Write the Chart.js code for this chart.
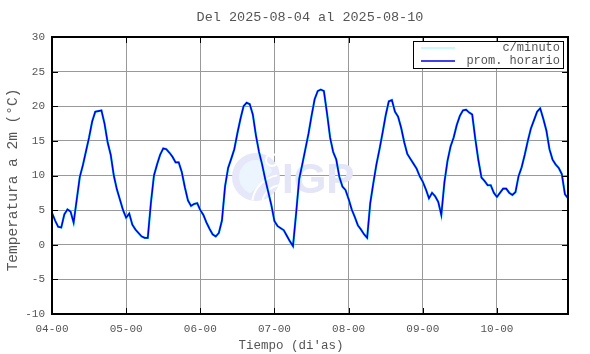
<!DOCTYPE html>
<html>
<head>
<meta charset="utf-8">
<script src="https://cdn.jsdelivr.net/npm/chart.js@4.4.1/dist/chart.umd.min.js"></script>
<style>
  body { margin: 0; background: #fff; }
</style>
</head>
<body>
<canvas id="tempChart" width="590" height="354"></canvas>
<script>
// hourly means (°C), one array per day
const day04 = [4.6, 3.5, 2.6, 2.5, 4.4, 5.1, 4.8, 3.2, 6.5, 9.8, 11.5, 13.5, 15.5, 17.8, 19.2, 19.3, 19.4, 17.5, 14.8, 13.0, 10.0, 8.0, 6.5, 5.0];
const day05 = [3.9, 4.5, 2.9, 2.2, 1.7, 1.2, 1.0, 1.0, 6.0, 10.0, 11.6, 13.0, 13.9, 13.8, 13.3, 12.7, 11.9, 11.9, 10.5, 8.3, 6.4, 5.6, 5.9, 6.0];
const day06 = [5.0, 4.3, 3.2, 2.3, 1.5, 1.2, 1.7, 3.5, 8.4, 11.1, 12.4, 13.8, 16.1, 18.2, 20.0, 20.5, 20.3, 18.8, 15.8, 13.4, 11.6, 9.5, 7.6, 5.7];
const day07 = [3.4, 2.7, 2.4, 2.1, 1.3, 0.5, -0.2, 4.5, 9.5, 11.6, 13.8, 16.0, 18.6, 21.0, 22.2, 22.4, 22.2, 19.0, 15.5, 13.4, 12.3, 9.8, 8.4, 7.9];
const day08 = [6.6, 5.1, 4.0, 2.8, 2.2, 1.5, 1.0, 6.0, 8.9, 11.6, 13.8, 16.2, 18.7, 20.7, 20.9, 19.2, 18.5, 16.9, 14.8, 13.1, 12.4, 11.7, 11.0, 9.9];
const day09 = [9.1, 8.0, 6.7, 7.5, 7.0, 6.2, 4.3, 9.0, 12.1, 14.2, 15.5, 17.3, 18.6, 19.4, 19.5, 19.1, 18.8, 15.3, 12.2, 9.7, 9.2, 8.6, 8.6, 7.5];
const day10 = [6.9, 7.5, 8.1, 8.1, 7.5, 7.2, 7.6, 9.9, 11.2, 13.0, 15.0, 16.8, 18.0, 19.2, 19.7, 18.2, 16.5, 13.8, 12.3, 11.6, 11.1, 10.2, 7.3, 6.7];

const dayTicks = ['04-00', '05-00', '06-00', '07-00', '08-00', '09-00', '10-00'];
const yTicks = [-10, -5, 0, 5, 10, 15, 20, 25, 30];

const titleText = 'Del 2025-08-04 al 2025-08-10';
const xTitle = "Tiempo (di'as)";
const yTitle = 'Temperatura a 2m (°C)';
const seriesNames = ['c/minuto', 'prom. horario'];

const hourly = [].concat(day04, day05, day06, day07, day08, day09, day10);
const points = hourly.map((v, i) => ({ x: i, y: v }));

const mono = "'Liberation Mono', 'DejaVu Sans Mono', monospace";
const textGray = '#555';
const cyan = '#40eefa';
const blue = '#0000e8';

const decorations = {
    id: 'decorations',
    beforeDatasetsDraw(chart) {
        // IGP watermark
        const ctx = chart.ctx;
        ctx.save();
        ctx.fillStyle = '#e6e7f8';
        ctx.beginPath();
        ctx.arc(256, 177, 24, 0, Math.PI * 2);
        ctx.fill();
        ctx.fillStyle = '#ecf4fd';
        ctx.beginPath();
        ctx.arc(256, 177, 17, Math.PI * 0.6, Math.PI * 1.9);
        ctx.fill();
        ctx.strokeStyle = '#fff';
        ctx.lineWidth = 2;
        ctx.beginPath();
        ctx.arc(282, 205, 30, Math.PI * 1.05, Math.PI * 1.45);
        ctx.stroke();
        ctx.beginPath();
        ctx.arc(282, 205, 20, Math.PI * 1.0, Math.PI * 1.5);
        ctx.stroke();
        ctx.beginPath();
        ctx.arc(272, 160, 6, 0, Math.PI * 2);
        ctx.stroke();
        ctx.fillStyle = '#e4e5f6';
        ctx.font = "bold 42px 'Liberation Sans', Arial, sans-serif";
        ctx.textBaseline = 'alphabetic';
        ctx.textAlign = 'left';
        ctx.fillText('IGP', 282, 193);
        ctx.restore();
    },
    afterDatasetsDraw(chart) {
        const { ctx, chartArea: a, scales: { x, y } } = chart;
        ctx.save();

        // inner tick marks on all four sides
        ctx.strokeStyle = '#000';
        ctx.lineWidth = 1;
        ctx.beginPath();
        x.ticks.forEach(t => {
            const px = Math.round(x.getPixelForValue(t.value)) + 0.5;
            ctx.moveTo(px, a.top); ctx.lineTo(px, a.top + 6);
            ctx.moveTo(px, a.bottom); ctx.lineTo(px, a.bottom - 6);
        });
        y.ticks.forEach(t => {
            const py = Math.round(y.getPixelForValue(t.value)) + 0.5;
            ctx.moveTo(a.left, py); ctx.lineTo(a.left + 6, py);
            ctx.moveTo(a.right, py); ctx.lineTo(a.right - 6, py);
        });
        ctx.stroke();

        ctx.lineWidth = 2;
        ctx.strokeRect(a.left, a.top, a.right - a.left, a.bottom - a.top);

        // legend box
        ctx.fillStyle = '#fff';
        ctx.fillRect(413, 41, 150, 27);
        ctx.lineWidth = 1;
        ctx.strokeStyle = '#000';
        ctx.strokeRect(413.5, 41.5, 150, 27);
        ctx.lineWidth = 1.5;
        ctx.strokeStyle = '#b8f8ff';
        ctx.beginPath(); ctx.moveTo(421, 48); ctx.lineTo(455, 48); ctx.stroke();
        ctx.strokeStyle = blue;
        ctx.beginPath(); ctx.moveTo(421, 61); ctx.lineTo(455, 61); ctx.stroke();
        ctx.fillStyle = textGray;
        ctx.font = '12px ' + mono;
        ctx.textAlign = 'right';
        ctx.textBaseline = 'middle';
        ctx.fillText(seriesNames[0], 560, 48);
        ctx.fillText(seriesNames[1], 560, 61);

        // titles
        ctx.textAlign = 'center';
        ctx.font = '13.5px ' + mono;
        ctx.fillText(titleText, 310, 17);
        ctx.font = '12.5px ' + mono;
        ctx.fillText(xTitle, 291, 346);
        ctx.translate(13, 180);
        ctx.rotate(-Math.PI / 2);
        ctx.font = '14.5px ' + mono;
        ctx.fillText(yTitle, 0, 0);
        ctx.restore();
    }
};

new Chart(document.getElementById('tempChart'), {
    type: 'line',
    data: {
        datasets: [{
            label: seriesNames[1],
            data: points,
            borderColor: blue,
            borderWidth: 1.6,
            pointRadius: 0,
            tension: 0,
            order: 0
        }, {
            label: seriesNames[0],
            data: points,
            borderColor: cyan,
            borderWidth: 2.4,
            pointRadius: 0,
            tension: 0,
            order: 1
        }]
    },
    options: {
        responsive: false,
        animation: false,
        devicePixelRatio: 1,
        layout: { padding: { top: 37, right: 22, left: 0, bottom: 0 } },
        plugins: {
            legend: { display: false },
            title: { display: false },
            tooltip: { enabled: false }
        },
        scales: {
            x: {
                type: 'linear',
                min: 0,
                max: 167,
                afterFit: s => { s.height = 40; },
                afterBuildTicks: s => {
                    s.ticks = dayTicks.map((_, i) => ({ value: i * 24 }));
                },
                grid: { color: '#999', borderDash: [1, 3], drawTicks: false },
                border: { display: false },
                ticks: {
                    padding: 8,
                    color: textGray,
                    font: { family: mono, size: 11 },
                    maxRotation: 0,
                    callback: v => dayTicks[v / 24]
                }
            },
            y: {
                min: -10,
                max: 30,
                afterFit: s => { s.width = 52; },
                afterBuildTicks: s => {
                    s.ticks = yTicks.map(v => ({ value: v }));
                },
                grid: { color: '#999', borderDash: [1, 3], drawTicks: false },
                border: { display: false },
                ticks: {
                    padding: 7,
                    color: textGray,
                    font: { family: mono, size: 11 }
                }
            }
        }
    },
    plugins: [decorations]
});
</script>
</body>
</html>
